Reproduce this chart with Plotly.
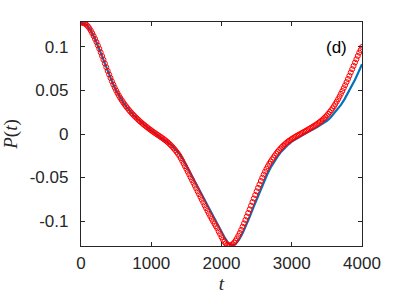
import plotly.graph_objects as go

# ---- data ----
t_red = list(range(0, 4001, 20))
p_red = [
    0.1280, 0.1279, 0.1275, 0.1266, 0.1253, 0.1236, 0.1214, 0.1188, 0.1158, 0.1126,
    0.1092, 0.1056, 0.1018, 0.0979, 0.0938, 0.0896, 0.0853, 0.0810, 0.0767, 0.0725,
    0.0684, 0.0644, 0.0605, 0.0568, 0.0533, 0.0500, 0.0469, 0.0440, 0.0413, 0.0388,
    0.0364, 0.0341, 0.0319, 0.0298, 0.0278, 0.0259, 0.0241, 0.0224, 0.0207, 0.0191,
    0.0175, 0.0160, 0.0145, 0.0131, 0.0117, 0.0104, 0.0091, 0.0078, 0.0065, 0.0053,
    0.0041, 0.0029, 0.0018, 0.0007, -0.0004, -0.0015, -0.0026, -0.0037, -0.0048, -0.0060,
    -0.0072, -0.0085, -0.0099, -0.0114, -0.0130, -0.0147, -0.0165, -0.0184, -0.0205, -0.0227,
    -0.0250, -0.0278, -0.0308, -0.0339, -0.0370, -0.0401, -0.0433, -0.0465, -0.0497, -0.0529,
    -0.0561, -0.0594, -0.0626, -0.0659, -0.0691, -0.0723, -0.0755, -0.0787, -0.0820, -0.0852,
    -0.0884, -0.0915, -0.0945, -0.0975, -0.1004, -0.1032, -0.1059, -0.1085, -0.1120, -0.1150,
    -0.1185, -0.1214, -0.1238, -0.1258, -0.1272, -0.1280, -0.1280, -0.1276, -0.1265, -0.1248,
    -0.1226, -0.1199, -0.1169, -0.1137, -0.1102, -0.1065, -0.1027, -0.0988, -0.0948, -0.0907,
    -0.0866, -0.0824, -0.0782, -0.0741, -0.0700, -0.0659, -0.0619, -0.0580, -0.0540, -0.0502,
    -0.0466, -0.0432, -0.0400, -0.0370, -0.0342, -0.0316, -0.0292, -0.0270, -0.0246, -0.0224,
    -0.0203, -0.0184, -0.0166, -0.0149, -0.0133, -0.0118, -0.0104, -0.0091, -0.0079, -0.0068,
    -0.0057, -0.0047, -0.0037, -0.0027, -0.0018, -0.0009, 0.0000, 0.0009, 0.0018, 0.0027,
    0.0036, 0.0045, 0.0055, 0.0064, 0.0074, 0.0084, 0.0094, 0.0104, 0.0115, 0.0127,
    0.0139, 0.0152, 0.0166, 0.0181, 0.0197, 0.0214, 0.0232, 0.0252, 0.0273, 0.0295,
    0.0319, 0.0345, 0.0372, 0.0401, 0.0431, 0.0462, 0.0494, 0.0527, 0.0561, 0.0596,
    0.0632, 0.0669, 0.0707, 0.0745, 0.0783, 0.0821, 0.0859, 0.0897, 0.0935, 0.0965,
    0.1000,
]

t_blue = list(range(0, 4001, 50))
p_blue = [
    0.1280, 0.1271, 0.1236, 0.1173, 0.1092, 0.0999, 0.0896, 0.0789, 0.0684, 0.0587,
    0.0500, 0.0426, 0.0364, 0.0309, 0.0259, 0.0216, 0.0175, 0.0138, 0.0104, 0.0072,
    0.0041, 0.0013, -0.0015, -0.0043, -0.0072, -0.0105, -0.0138, -0.0180, -0.0227, -0.0289,
    -0.0362, -0.0436, -0.0513, -0.0591, -0.0667, -0.0742, -0.0820, -0.0896, -0.0972, -0.1043,
    -0.1117, -0.1197, -0.1256, -0.1280, -0.1266, -0.1215, -0.1140, -0.1052, -0.0954, -0.0851,
    -0.0751, -0.0653, -0.0557, -0.0466, -0.0385, -0.0316, -0.0258, -0.0203, -0.0159, -0.0121,
    -0.0088, -0.0061, -0.0037, -0.0014, 0.0009, 0.0029, 0.0051, 0.0073, 0.0099, 0.0124,
    0.0152, 0.0187, 0.0232, 0.0278, 0.0335, 0.0398, 0.0470, 0.0544, 0.0623, 0.0711,
    0.0802,
]

x_ticks = [0, 1000, 2000, 3000, 4000]
x_ticklabels = ["0", "1000", "2000", "3000", "4000"]
y_ticks = [-0.1, -0.05, 0, 0.05, 0.1]
y_ticklabels = ["-0.1", "-0.05", "0", "0.05", "0.1"]

AX = "#262626"
FONT = "Liberation Sans"

fig = go.Figure()
fig.add_trace(go.Scatter(
    x=t_blue, y=p_blue, mode="lines",
    line=dict(color="#0072BD", width=2.2),
    showlegend=False, hoverinfo="skip",
))
fig.add_trace(go.Scatter(
    x=t_red, y=p_red, mode="markers",
    marker=dict(symbol="circle-open", size=5, color="#FF0000",
                line=dict(width=1, color="#FF0000")),
    showlegend=False, hoverinfo="skip",
))

fig.add_annotation(
    x=3630, y=0.099, xref="x", yref="y", text="(d)", showarrow=False,
    font=dict(family=FONT, size=17, color="#000000"),
)

axis_common = dict(
    showgrid=False, zeroline=False, showline=True, linecolor=AX, linewidth=1.3,
    mirror="ticks", ticks="inside", ticklen=4, tickwidth=1.3, tickcolor=AX,
    tickfont=dict(family=FONT, size=17, color=AX), automargin=False,
)

fig.update_xaxes(
    range=[0, 4000], tickvals=x_ticks, ticktext=x_ticklabels,
    title=dict(text="<i>t</i>", font=dict(family="Liberation Serif", size=19, color=AX), standoff=4),
    ticklabelstandoff=1,
    **axis_common,
)
fig.update_yaxes(
    range=[-0.1287, 0.1287], tickvals=y_ticks, ticktext=y_ticklabels,
    title=dict(text="<i>P</i>(<i>t</i>)", font=dict(family="Liberation Serif", size=19, color=AX), standoff=10),
    ticklabelstandoff=8,
    **axis_common,
)

fig.update_layout(
    width=399, height=299,
    margin=dict(l=81, r=37, t=22, b=53),
    paper_bgcolor="white", plot_bgcolor="white",
)

fig.write_html("out.html", config={"displayModeBar": False},
               post_script="document.body.style.margin='0';")
